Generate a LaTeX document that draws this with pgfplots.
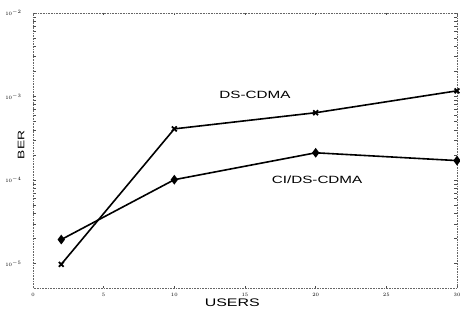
\documentclass[border=0pt]{standalone}
\usepackage{pgfplots}
\pgfplotsset{compat=1.18}
\usepackage{fontspec}
\setmainfont{Liberation Sans}
\newfontfamily\wide[FakeStretch=1.45]{Liberation Sans}
\begin{document}
\begin{tikzpicture}[x=1pt,y=1pt]
\useasboundingbox (0,0) rectangle (460,312);
\begin{axis}[
  at={(33pt,24pt)}, anchor=south west,
  scale only axis, width=424pt, height=275pt,
  xmin=0, xmax=30, ymode=log,
  ymin=5.1e-6, ymax=1e-2,
  xtick={0,5,10,15,20,25,30},
  ytick={1e-5,1e-4,1e-3,1e-2},
  yticklabels={$10^{-5}$,$10^{-4}$,$10^{-3}$,$10^{-2}$},
  minor ytick={},
  tick label style={font=\fontsize{4.5}{4.5}\selectfont},
  yticklabel style={xshift=-8pt},
  xticklabel style={yshift=-2pt},
  tick align=inside, major tick length=2pt,
  tick style={black!70, thin},
  axis line style={black!60, densely dotted, line width=0.6pt},
  xlabel={\wide\fontsize{11}{11}\selectfont USERS},
  ylabel={\wide\fontsize{9.5}{9.5}\selectfont BER},
  xlabel style={at={(axis description cs:0.47,0)}, anchor=north, yshift=-7pt},
  ylabel style={at={(axis description cs:0,0.52)}, anchor=south, yshift=5pt},
  clip=false,
]
\addplot[black, line width=1.6pt, mark=x, mark size=3.4pt, mark options={line width=1.8pt}]
  coordinates {(2,9.8e-6) (10,4.1e-4) (20,6.4e-4) (30,1.17e-3)};
\addplot[black, line width=1.6pt, mark=diamond*, mark size=3.6pt]
  coordinates {(2,1.94e-5) (10,1.01e-4) (20,2.12e-4) (30,1.71e-4)};
\node[font=\wide\fontsize{10.5}{10.5}\selectfont] at (axis cs:15.7,1.05e-3) {DS-CDMA};
\node[font=\wide\fontsize{10.5}{10.5}\selectfont] at (axis cs:20.1,1e-4) {CI/DS-CDMA};
\end{axis}
\end{tikzpicture}
\end{document}
